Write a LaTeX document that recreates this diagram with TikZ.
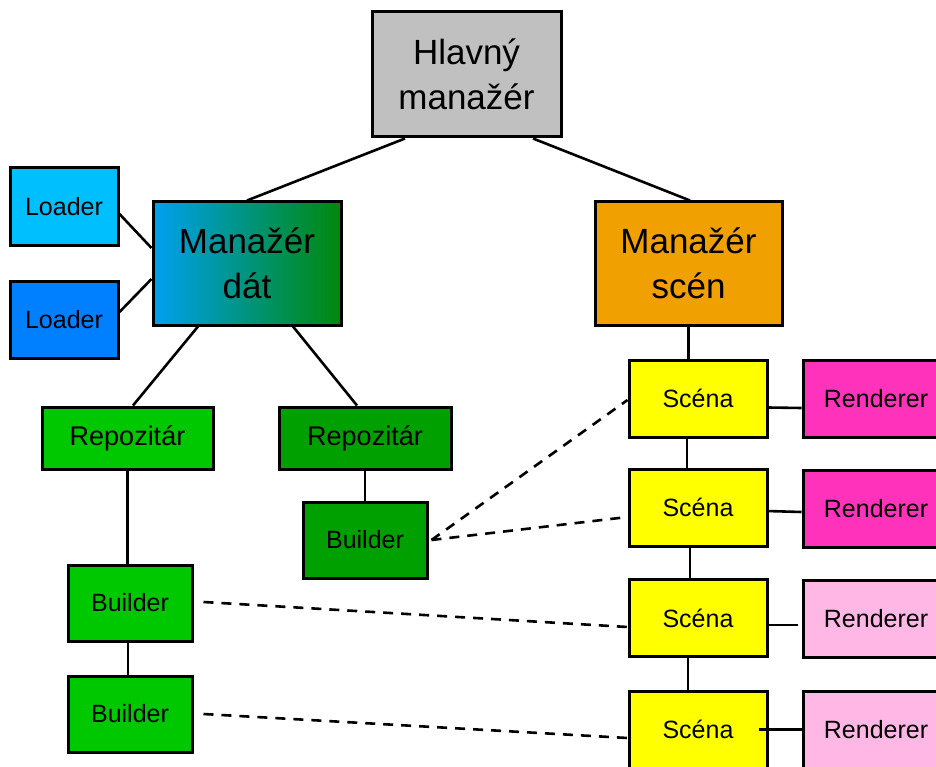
\documentclass[tikz,border=0pt]{standalone}
\usepackage{fontspec}
\setmainfont{Liberation Sans}
\definecolor{mgray}{RGB}{192,192,192}
\definecolor{dataleft}{RGB}{0,160,240}
\definecolor{dataright}{RGB}{0,136,10}
\definecolor{scenorange}{RGB}{240,160,0}
\definecolor{loadlight}{RGB}{0,191,255}
\definecolor{loaddark}{RGB}{0,128,255}
\definecolor{glight}{RGB}{0,200,0}
\definecolor{gdark}{RGB}{0,160,0}
\definecolor{scyellow}{RGB}{255,255,0}
\definecolor{rmagenta}{RGB}{255,51,187}
\definecolor{rpink}{RGB}{255,184,230}
\begin{document}
\begin{tikzpicture}[x=1pt,y=-1pt,
    box/.style={draw=black,line width=3pt,rectangle,align=center,inner sep=0pt},
    bigbox/.style={box,font=\fontsize{35}{45}\selectfont},
    smallbox/.style={box,font=\fontsize{25}{28}\selectfont},
    repobox/.style={box,font=\fontsize{27}{30}\selectfont},
    link/.style={line width=2.6pt},
    dlink/.style={line width=2.6pt,dash pattern=on 10pt off 8pt}]
    \useasboundingbox (0,0) rectangle (936,767);
    \clip (0,0) rectangle (936,767);
    % managers
    \node[bigbox,fill=mgray,minimum width=189pt,minimum height=125pt] (hlavny) at (466.5,74.5) {Hlavný\\manažér};
    \node[bigbox,left color=dataleft,right color=dataright,minimum width=188pt,minimum height=123pt] (data) at (247,263.5) {Manažér\\dát};
    \node[bigbox,fill=scenorange,minimum width=187pt,minimum height=123pt] (scen) at (688.5,263.5) {Manažér\\scén};
    % data side
    \node[smallbox,fill=loadlight,minimum width=108pt,minimum height=78pt] (loader1) at (64,207) {Loader};
    \node[smallbox,fill=loaddark,minimum width=108pt,minimum height=77pt] (loader2) at (64,319.5) {Loader};
    \node[repobox,fill=glight,minimum width=171pt,minimum height=62pt] (repo1) at (127.5,438) {Repozitár};
    \node[repobox,fill=gdark,minimum width=172pt,minimum height=62pt] (repo2) at (365,438) {Repozitár};
    \node[smallbox,fill=gdark,minimum width=124pt,minimum height=76pt] (builder0) at (365,540) {Builder};
    \node[smallbox,fill=glight,minimum width=124pt,minimum height=76pt] (builder1) at (130,603) {Builder};
    \node[smallbox,fill=glight,minimum width=124pt,minimum height=76pt] (builder2) at (130,714) {Builder};
    % scenes
    \foreach \i/\y in {1/398.5,2/507.5,3/618,4/729.5}
        \node[smallbox,fill=scyellow,minimum width=138pt,minimum height=77pt] (scena\i) at (698,\y) {Scéna};
    \foreach \i/\y/\c in {1/398.5/rmagenta,2/509/rmagenta,3/619/rpink,4/729.5/rpink}
        \node[smallbox,fill=\c,minimum width=146pt,minimum height=77pt] (renderer\i) at (876,\y) {Renderer};
    % connections
    \draw[link] ([xshift=-61.5pt]hlavny.south) -- (data.north);
    \draw[link] ([xshift=66.5pt]hlavny.south) -- ([xshift=1.5pt]scen.north);
    \draw[link] ([yshift=-7pt]loader1.east) -- ([yshift=15.5pt]data.west);
    \draw[link] ([yshift=7.5pt]loader2.east) -- ([yshift=-15.5pt]data.west);
    \draw[link] ([xshift=-49pt]data.south) -- ([xshift=5.5pt]repo1.north);
    \draw[link] ([xshift=46pt]data.south) -- ([xshift=-8pt]repo2.north);
    \draw[link] (repo2.south) -- (builder0.north);
    \draw[link] (repo1.south) -- (repo1.south |- builder1.north);
    \draw[link] ([xshift=-2pt]builder1.south) -- ([xshift=-2pt]builder2.north);
    \draw[link] (scen.south) -- (scen.south |- scena1.north);
    \draw[link] ([xshift=-11pt]scena1.south) -- ([xshift=-11pt]scena2.north);
    \draw[link] ([xshift=-8pt]scena2.south) -- ([xshift=-8pt]scena3.north);
    \draw[link] ([xshift=-10pt]scena3.south) -- ([xshift=-10pt]scena4.north);
    \draw[link] ([yshift=-9pt]scena1.east) -- ([yshift=-9.5pt]renderer1.west);
    \draw[link] ([xshift=-2pt,yshift=-3.5pt]scena2.east) -- ([yshift=-3pt]renderer2.west);
    \draw[link] ([yshift=-7pt]scena3.east) -- ([xshift=-4pt,yshift=-6pt]renderer3.west);
    \draw[link] ([xshift=-10pt]scena4.east) -- (renderer4.west);
    \draw[dlink] ([xshift=3pt]builder0.east) -- ([yshift=-1.5pt]scena1.west);
    \draw[dlink] ([xshift=3pt]builder0.east) -- ([yshift=-9.5pt]scena2.west);
    \draw[dlink] ([xshift=10pt,yshift=1pt]builder1.east) -- ([yshift=-9pt]scena3.west);
    \draw[dlink] ([xshift=10pt]builder2.east) -- ([yshift=-8.5pt]scena4.west);
\end{tikzpicture}
\end{document}
